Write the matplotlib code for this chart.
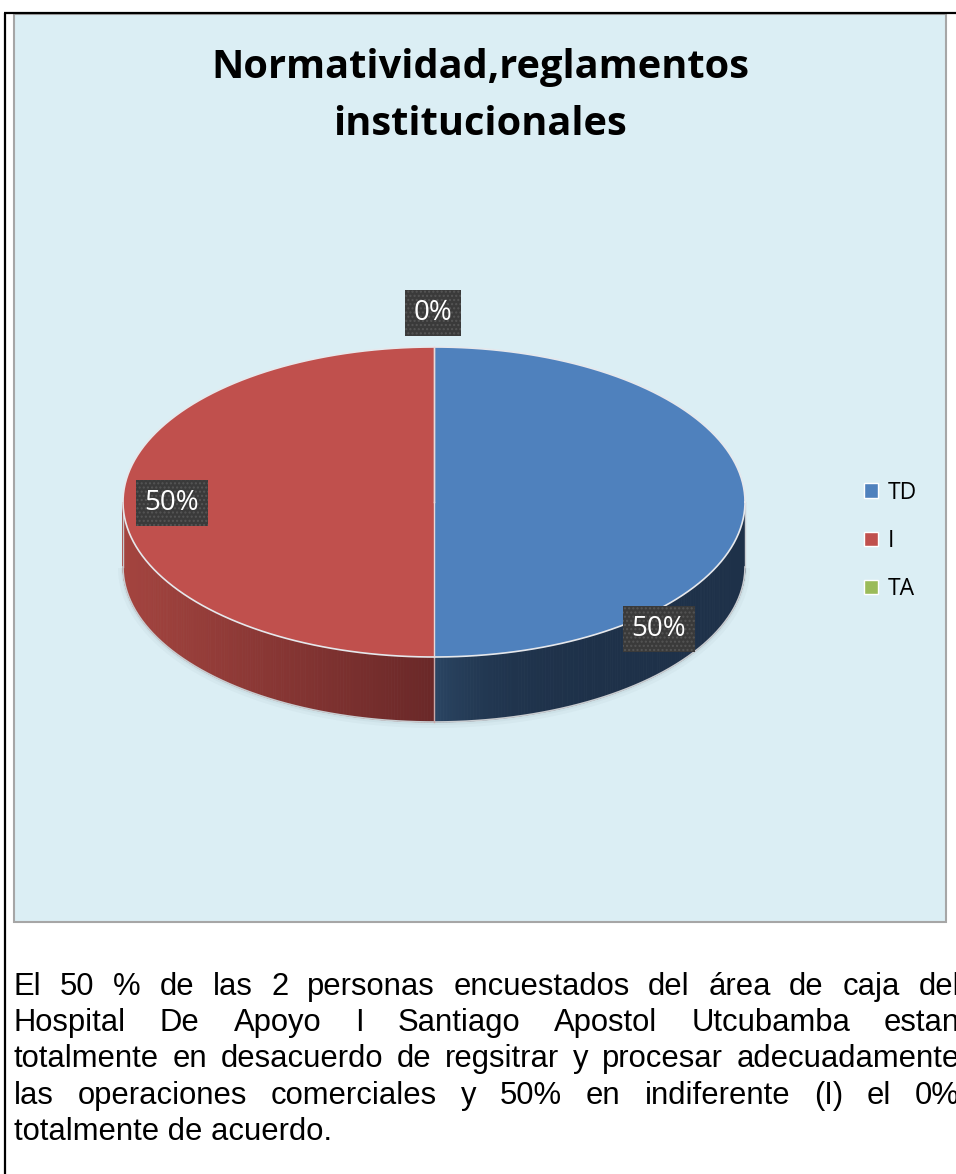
import numpy as np
import matplotlib
matplotlib.use("Agg")
from matplotlib import pyplot as plt
from matplotlib.patches import Wedge, Polygon, Rectangle, Patch
from matplotlib.colors import to_rgb
from matplotlib.transforms import Affine2D

# data
categories = ["TD", "I", "TA"]
counts = [1, 1, 0]
colors = ["#4F81BD", "#C0504D", "#9BBB59"]
side_light = ["#2B4664", "#A4443F", "#7E9646"]
side_dark = ["#1E3149", "#6A2828", "#5A6E30"]

title = "Normatividad,reglamentos\ninstitucionales"
paragraph = [
    "El 50 % de las 2 personas encuestados del área de caja del",
    "Hospital De Apoyo I Santiago Apostol Utcubamba estan",
    "totalmente en desacuerdo de regsitrar y procesar adecuadamente",
    "las operaciones comerciales y 50% en indiferente (I) el 0%",
    "totalmente de acuerdo.",
]

W, H = 956, 1174
CX, CY, RX, RY, DEPTH = 434, 502, 311, 155, 65


def Y(y):
    return H - y


def mix(c1, c2, t):
    a, b = np.array(to_rgb(c1)), np.array(to_rgb(c2))
    return tuple(a + (b - a) * t)


fig = plt.figure(figsize=(W / 100, H / 100), dpi=100)
ax = fig.add_axes([0, 0, 1, 1])
ax.set_xlim(0, W)
ax.set_ylim(0, H)
ax.axis("off")

# page / chart frame
ax.plot([4, W], [Y(13), Y(13)], color="black", lw=1.6, solid_capstyle="butt")
ax.plot([5, 5], [Y(13), 0], color="black", lw=1.6, solid_capstyle="butt")
ax.add_patch(Rectangle((14, Y(922)), 932, 908, facecolor="#DBEEF4",
                       edgecolor="#A6A6A6", lw=1.5))

# slice angles: start at 12 o'clock, clockwise
total = sum(counts)
fracs = [c / total for c in counts]
pcts = [round(f * 100) for f in fracs]
ends = 90 - 360 * np.cumsum(fracs)
starts = np.concatenate([[90], ends[:-1]])

cy = Y(CY)

# faint shadow
sh = np.linspace(180, 360, 200)
for k, a in enumerate([0.04, 0.03]):
    ax.fill(CX + (RX + 2 + k * 3) * np.cos(np.radians(sh)),
            cy - DEPTH - 1 + (RY + 2 + k * 3) * np.sin(np.radians(sh)),
            color="#20404a", alpha=a, lw=0, zorder=1)

# side walls with gradient
for i, (s, e) in enumerate(zip(starts, ends)):
    lo, hi = e % 360, (e % 360) + (s - e)
    if hi - lo <= 0:
        continue
    seg_lo, seg_hi = max(lo, 180), min(hi, 360)
    if seg_hi <= seg_lo:
        continue
    angs = np.linspace(seg_lo, seg_hi, 160)
    for a0, a1 in zip(angs[:-1], angs[1:]):
        x0, x1 = CX + RX * np.cos(np.radians(a0)), CX + RX * np.cos(np.radians(a1))
        y0, y1 = cy + RY * np.sin(np.radians(a0)), cy + RY * np.sin(np.radians(a1))
        xm = (x0 + x1) / 2
        t = 1 - abs(xm - CX) / RX
        if categories[i] == "TD":
            c = mix(side_dark[i], side_light[i], t ** 6)
        else:
            c = mix(side_light[i], side_dark[i], t)
        ax.add_patch(Polygon([(x0, y0), (x1, y1), (x1, y1 - DEPTH), (x0, y0 - DEPTH)],
                             closed=True, facecolor=c, edgecolor=c, lw=0.6, zorder=2))

# side outline + seam
bot = np.linspace(180, 360, 200)
ax.plot(CX + RX * np.cos(np.radians(bot)), cy - DEPTH + RY * np.sin(np.radians(bot)),
        color="#C8CCD0", lw=1.2, zorder=3)
ax.plot([CX - RX, CX - RX], [cy, cy - DEPTH], color="#C8CCD0", lw=1, zorder=3)
ax.plot([CX + RX, CX + RX], [cy, cy - DEPTH], color="#C8CCD0", lw=1, zorder=3)
ax.plot([CX, CX], [cy - RY, cy - RY - DEPTH], color="#C9A8A8", lw=1, zorder=3)

# top face
tr = Affine2D().scale(RX, RY).translate(CX, cy) + ax.transData
for i, (s, e) in enumerate(zip(starts, ends)):
    if s == e:
        continue
    ax.add_patch(Wedge((0, 0), 1, e, s, facecolor=colors[i], edgecolor="none",
                       transform=tr, zorder=4))
top = np.linspace(0, 360, 400)
ax.plot(CX + RX * np.cos(np.radians(top)), cy + RY * np.sin(np.radians(top)),
        color="#E6E8EC", lw=1.2, zorder=5)
for s in starts:
    ax.plot([CX, CX + RX * np.cos(np.radians(s))], [cy, cy + RY * np.sin(np.radians(s))],
            color="#E8D8D8", lw=1, zorder=5)

# data labels
label_pos = [(659, 629), (172, 503), (433, 313)]
for p, (lx, ly) in zip(pcts, label_pos):
    ax.text(lx, Y(ly), f"{p}%", color="white", fontsize=20, family="Open Sans",
            ha="center", va="center", zorder=6,
            bbox=dict(boxstyle="square,pad=0.32", facecolor="#3A3A3A",
                      edgecolor="#555555", hatch="....", lw=0))

# title
ax.text(480, Y(96), title, ha="center", va="center", fontsize=28.6,
        fontweight="bold", family="Open Sans", linespacing=1.6, zorder=6)

# legend
handles = [Patch(facecolor=c, edgecolor="white", lw=1) for c in colors]
fig.legend(handles, categories, loc="center left", bbox_to_anchor=(864 / W, 1 - 541 / H),
           frameon=False, prop={"family": "Open Sans", "size": 16.5},
           handlelength=0.62, handleheight=0.62, handletextpad=0.4,
           labelspacing=1.05, borderaxespad=0, borderpad=0)

# justified paragraph
fig.canvas.draw()
rend = fig.canvas.get_renderer()
left, right = 14, 960
base0, step = 995, 36.2
fp = dict(family="Liberation Sans", fontsize=22.3)


def text_w(s):
    t = ax.text(0, 0, s, **fp)
    bb = t.get_window_extent(renderer=rend)
    t.remove()
    return bb.width


for li, line in enumerate(paragraph):
    yb = Y(base0 + li * step)
    words = line.split(" ")
    if li == len(paragraph) - 1:
        ax.text(left, yb, line, va="baseline", ha="left", **fp)
        continue
    widths = [text_w(w) for w in words]
    gap = (right - left - sum(widths)) / (len(words) - 1)
    x = left
    for w, wd in zip(words, widths):
        ax.text(x, yb, w, va="baseline", ha="left", **fp)
        x += wd + gap

fig.savefig("out.png", dpi=100)
